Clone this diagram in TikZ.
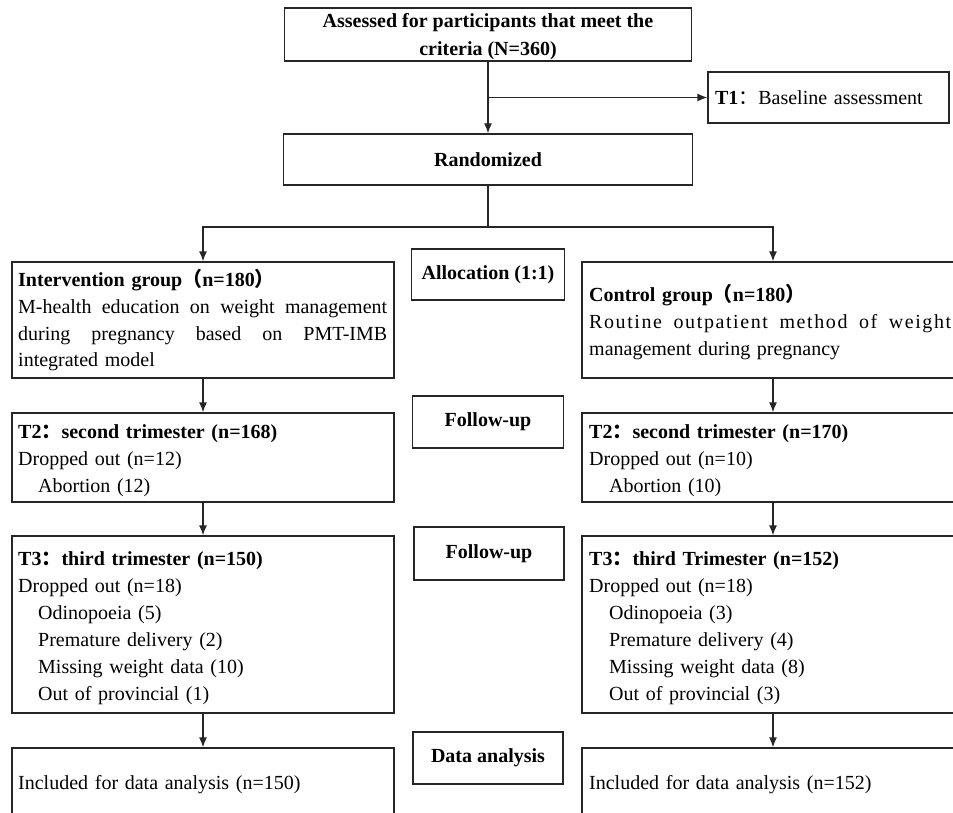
\documentclass[tikz,border=0pt]{standalone}
\usepackage{fontspec}
\setmainfont{Liberation Serif}
\newfontfamily\cjk{Noto Sans CJK SC}
\usetikzlibrary{arrows.meta}
\newcommand{\fw}[1]{{\cjk #1}}

\begin{document}
\begin{tikzpicture}[x=1pt,y=-1pt,>={Latex[length=10pt,width=8pt]},
    box/.style={draw=black!85,line width=1.3pt,inner sep=0pt,font=\fontsize{20}{28}\selectfont\bfseries,align=center},
    txt/.style={anchor=base west,inner sep=0pt,text width=#1,align=left,font=\fontsize{20}{27}\selectfont},
    txt/.default=360pt,
    conn/.style={draw=black!85,line width=1.3pt}]
    \useasboundingbox (0,0) rectangle (953,813);
    \clip (0,0) rectangle (953,813);
    \begin{scope}
      % top part
      \node[box,minimum width=407pt,minimum height=53pt,text depth=0pt] (assess) at (488,34.5){Assessed for participants that meet the\\criteria (N=360)};
      \node[box,minimum width=241pt,minimum height=51pt,text width=227pt,align=left,font=\fontsize{20}{27}\selectfont] (base) at (828.5,97.5){\textbf{T1}\fw{：}Baseline assessment};
      \node[box,minimum width=409pt,minimum height=51pt] (rand) at (488,159.5){Randomized};
      \coordinate (split) at (488,227);
      % groups
      \node[box,minimum width=382pt,minimum height=116pt] (intv) at (203,320){};
      \node[box,minimum width=382pt,minimum height=116pt] (ctrl) at (773,320){};
      \node[box,minimum width=153pt,minimum height=51pt] (alloc) at (488,274.5){Allocation (1:1)};
      \node[box,minimum width=382pt,minimum height=89pt] (secl) at (203,457.5){};
      \node[box,minimum width=382pt,minimum height=89pt] (secr) at (773,457.5){};
      \node[box,minimum width=151pt,minimum height=52pt] (follow) at (488,422){Follow-up};
      \node[box,minimum width=382pt,minimum height=177pt] (thirdl) at (203,624.5){};
      \node[box,minimum width=382pt,minimum height=177pt] (thirdr) at (773,624.5){};
      \node[box,minimum width=150pt,minimum height=53pt] (followb) at (489,553.5){Follow-up};
      \node[box,minimum width=382pt,minimum height=82pt] (incl) at (203,789){};
      \node[box,minimum width=382pt,minimum height=82pt] (incr) at (773,789){};
      \node[box,minimum width=150pt,minimum height=52pt] (analysis) at (488,758){Data analysis};
      % texts
      \node[txt=369pt] (intvtxt) at (18,286){\textbf{Intervention group\fw{（}n=180\fw{）}}\\
        \makebox[369pt][l]{M-health\hfill education\hfill on\hfill weight\hfill management}\\
        \makebox[369pt][l]{during\hfill pregnancy\hfill based\hfill on\hfill PMT-IMB}\\
        integrated model};
      \node[txt=362pt] (ctrltxt) at (589,301){\textbf{Control group\fw{（}n=180\fw{）}}\\
        \makebox[362pt][l]{\addfontfeatures{LetterSpace=8}Routine\hfill outpatient\hfill method\hfill of\hfill weight}\\
        management during pregnancy};
      \node[txt] (secltxt) at (18,438){\textbf{T2\fw{：}second trimester (n=168)}\\
        Dropped out (n=12)\\
        \hspace*{20pt}Abortion (12)};
      \node[txt] (secrtxt) at (589,438){\textbf{T2\fw{：}second trimester (n=170)}\\
        Dropped out (n=10)\\
        \hspace*{20pt}Abortion (10)};
      \node[txt] (thirdltxt) at (18,565){\textbf{T3\fw{：}third trimester (n=150)}\\
        Dropped out (n=18)\\
        \hspace*{20pt}Odinopoeia (5)\\
        \hspace*{20pt}Premature delivery (2)\\
        \hspace*{20pt}Missing weight data (10)\\
        \hspace*{20pt}Out of provincial (1)};
      \node[txt] (thirdrtxt) at (589,565){\textbf{T3\fw{：}third Trimester (n=152)}\\
        Dropped out (n=18)\\
        \hspace*{20pt}Odinopoeia (3)\\
        \hspace*{20pt}Premature delivery (4)\\
        \hspace*{20pt}Missing weight data (8)\\
        \hspace*{20pt}Out of provincial (3)};
      \node[txt] (incltxt) at (18,789){Included for data analysis (n=150)};
      \node[txt] (incrtxt) at (589,789){Included for data analysis (n=152)};
      % connectors
      \draw[conn,->](assess)--(rand);
      \draw[conn,->](assess.south |- base.west)--(base.west);
      \draw[conn](rand)--(split);
      \draw[conn,->](split)-|(intv.north);
      \draw[conn,->](split)-|(ctrl.north);
      \draw[conn,->](intv)--(secl);
      \draw[conn,->](ctrl)--(secr);
      \draw[conn,->](secl)--(thirdl);
      \draw[conn,->](secr)--(thirdr);
      \draw[conn,->](thirdl)--(incl);
      \draw[conn,->](thirdr)--(incr);
    \end{scope}
  \end{tikzpicture}
\end{document}
